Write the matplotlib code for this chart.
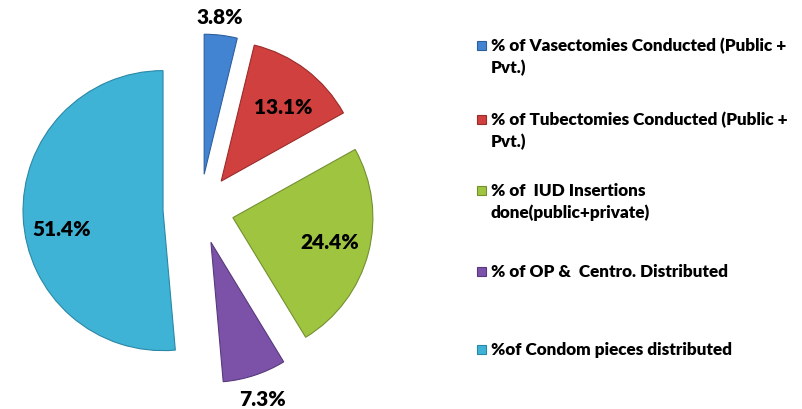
import matplotlib
matplotlib.use("Agg")
import matplotlib.pyplot as plt
from matplotlib.patches import Rectangle

# shares of family-planning services (%)
labels = [
    "% of Vasectomies Conducted (Public +\nPvt.)",
    "% of Tubectomies Conducted (Public +\nPvt.)",
    "% of  IUD Insertions\ndone(public+private)",
    "% of OP &  Centro. Distributed",
    "%of Condom pieces distributed",
]
values = [3.8, 13.1, 24.4, 7.3, 51.4]
colors = ["#4384d2", "#d0403f", "#9fc540", "#7b52a8", "#3fb3d6"]
edges = ["#2c5f9e", "#9a2c2b", "#739030", "#58397c", "#2a88a6"]

explode_px = [35, 35, 34, 35, 37]     # pie offsets are in data units (px here)
label_xy = [(220, 18), (283, 107), (330, 243), (263, 400), (62, 230)]  # px from top-left
legend_y = [46, 120, 191, 272, 350]   # px from top, first line of each entry

W, H = 803, 410
fig = plt.figure(figsize=(W / 100, H / 100), dpi=100)
ax = fig.add_axes([0, 0, 1, 1])

cx, cy, R = 200, H - 210, 140
wedges, _ = ax.pie(values, colors=colors, explode=explode_px, startangle=90,
                   counterclock=False, center=(cx, cy), radius=R, frame=True,
                   wedgeprops=dict(linewidth=0.8))
for w, ec in zip(wedges, edges):
    w.set_edgecolor(ec)
ax.set_xlim(0, W)
ax.set_ylim(0, H)
ax.axis("off")

font = "Lato"
for v, (lx, ly) in zip(values, label_xy):
    ax.text(lx, H - ly, f"{v:.1f}%", ha="center", va="center", fontsize=15,
            fontweight="heavy", family=font, color="black")

# legend drawn by hand (uneven Excel spacing)
for lab, col, ec, y in zip(labels, colors, edges, legend_y):
    ax.add_patch(Rectangle((477, H - y - 4.5), 9, 9, facecolor=col,
                           edgecolor=ec, linewidth=0.8))
    for i, line in enumerate(lab.split("\n")):
        ax.text(491, H - y - i * 22, line, ha="left", va="center",
                fontsize=12.3, fontweight="heavy", family=font, color="black")

fig.savefig("out.png", dpi=100)
